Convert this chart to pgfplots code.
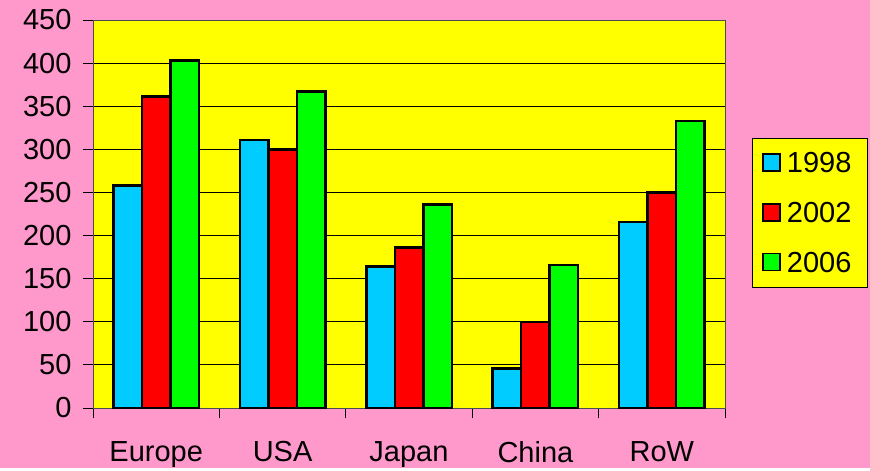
\documentclass[border=0pt]{standalone}
\usepackage{pgfplots}
\pgfplotsset{compat=1.18}
\usepackage{fontspec}
\setmainfont{Liberation Sans}
\definecolor{bg}{HTML}{FF99CC}
\definecolor{plotbg}{HTML}{FFFF00}
\definecolor{cA}{HTML}{00CCFF}
\definecolor{cB}{HTML}{FF0000}
\definecolor{cC}{HTML}{00FF00}
\begin{document}
\begin{tikzpicture}[x=1pt,y=1pt]
\fill[bg] (0,0) rectangle (870,468);
\begin{axis}[at={(93pt,60pt)}, anchor=south west, scale only axis,
  width=632pt, height=388pt,
  ybar=0pt, bar width=28.5pt,
  xmin=-0.5, xmax=4.5, ymin=0, ymax=450,
  xtick={0,1,2,3,4}, xticklabels={Europe,USA,Japan,China,RoW},
  major x tick style={draw=none},
  minor xtick={-0.5,0.5,1.5,2.5,3.5,4.5},
  ytick={0,50,...,450},
  xtick pos=bottom, ytick pos=left,
  tick align=outside, major tick length=10pt, minor tick length=10pt,
  tick style={black, line width=0.8pt},
  ymajorgrids, major grid style={black, line width=0.8pt},
  axis line style={black!70, line width=0.8pt},
  axis background/.style={fill=plotbg},
  tick label style={font=\fontsize{29}{34}\selectfont, black},
  /pgf/number format/assume math mode=true,
  yticklabel style={xshift=-8pt},
  xticklabel style={yshift=-20pt},
  every axis plot post/.append style={legend image code/.code={\draw[##1, line width=1.5pt] (0pt,-8pt) rectangle (17pt,9pt);}},
  legend style={at={(1.0427,0.696)}, anchor=north west, fill=plotbg, draw=black, line width=0.8pt,
    font=\fontsize{29}{34}\selectfont, row sep=24pt, inner xsep=10pt, inner ysep=12pt,
    nodes={inner xsep=6pt}},
  legend cell align=left,
]
\addplot[fill=cA, draw=black, line width=2.5pt] coordinates {(0,258) (1,311) (2,164) (3,46) (4,216)};
\addplot[fill=cB, draw=black, line width=2.5pt] coordinates {(0,361) (1,300) (2,186) (3,100) (4,250)};
\addplot[fill=cC, draw=black, line width=2.5pt] coordinates {(0,403) (1,367) (2,236) (3,166) (4,333)};
\legend{1998,2002,2006}
\end{axis}
\end{tikzpicture}
\end{document}
